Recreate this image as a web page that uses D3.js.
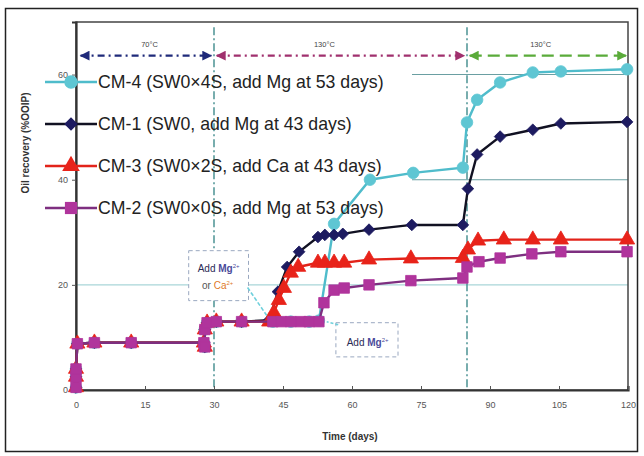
<!DOCTYPE html>
<html><head><meta charset="utf-8">
<script src="https://cdn.jsdelivr.net/npm/d3@7/dist/d3.min.js"></script>
<style>body{margin:0;background:#fff}svg{display:block;font-family:"Liberation Sans",Arial,sans-serif}</style>
</head><body><svg id="c" width="644" height="456"></svg>
<script>
// ---- data ----
const xTicks = [0, 15, 30, 45, 60, 75, 90, 105, 120];
const yTicks = [0, 20, 40, 60];
const gridValues = [20, 40, 60];
const stageBreaks = [30, 85];
const stageLabels = ["70°C", "130°C", "130°C"];
const stageStart = [1, 30.6, 85.6];
const stageEnd = [29.4, 84.4, 119.6];
const stageLabelX = [16, 54, 101];

// common early phase (all cores)
const commonDays = [0, 0, 0, 0.3, 4, 12, 27.8, 28, 28, 28.5, 30.5, 36];
const commonVals = [0.5, 2.5, 4, 8.8, 9, 9, 9, 8.2, 11.5, 12.8, 13, 13];

const cm1Days = [42, 43.9, 45.9, 48.5, 52.6, 54.1, 56.1, 58, 63.7, 73, 84.1, 85.2, 87.2, 92.2, 99.3, 105.4, 119.8];
const cm1Vals = [13.3, 18.7, 23.4, 26.3, 29.1, 29.5, 29.5, 29.7, 30.5, 31.4, 31.4, 38.3, 44.8, 48.2, 49.5, 50.7, 51];

const cm3Days = [42, 43, 44.1, 45.2, 46.7, 48.3, 52.6, 54.1, 56.1, 58.3, 63.7, 72.8, 84.1, 85.2, 87.4, 93, 99.3, 105.4, 119.8];
const cm3Vals = [13, 14.7, 17.1, 19.4, 22.3, 23.4, 24.2, 24.2, 24.2, 24.2, 24.8, 25, 25.1, 26.7, 28.4, 28.6, 28.6, 28.6, 28.6];

const cm2Days = [42.8, 44.6, 46.7, 48.9, 50.7, 52.8, 53.9, 56.1, 58.3, 63.7, 72.8, 84.1, 85, 87.6, 92.2, 99.1, 105.4, 119.8];
const cm2Vals = [13, 13, 13, 13, 13, 13, 16.6, 19, 19.4, 20, 20.8, 21.3, 23.4, 24.4, 25.1, 25.9, 26.3, 26.3];

const cm4Days = [42.8, 46.7, 50.7, 52.8, 56.1, 63.9, 73.3, 84.1, 85, 87.2, 92.2, 99.3, 105.4, 119.8];
const cm4Vals = [13, 13, 13, 13.2, 31.6, 40, 41.3, 42.3, 50.9, 55.2, 58.5, 60.4, 60.6, 61];

const seriesNames = ["CM-4 (SW0×4S, add Mg at 53 days)", "CM-1 (SW0, add Mg at 43 days)", "CM-3 (SW0×2S, add Ca at 43 days)", "CM-2 (SW0×0S, add Mg at 53 days)"];
const seriesDays = [cm4Days, cm1Days, cm3Days, cm2Days];
const seriesVals = [cm4Vals, cm1Vals, cm3Vals, cm2Vals];

// ---- styling ----
const lineColors = ["#4fbccb", "#111122", "#e2231a", "#7e2f80"];
const fillColors = ["#5ec6d3", "#1d1b60", "#e8231a", "#b0349c"];
const symbols = [d3.symbolCircle, d3.symbolSquare, d3.symbolTriangle, d3.symbolSquare];
const symSize = [105, 68, 100, 110];
const symRot = [0, 45, 0, 0];
const stageColors = ["#1f2a7a", "#a0306e", "#5aab3a"];
const stageDash = ["7,4,2,4", "7,4,2,4", "12,6"];

const svg = d3.select("#c");
const x = d3.scaleLinear().domain([0, 120]).range([76, 628]);
const y = d3.scaleLinear().domain([0, 70]).range([390, 22]);

// outer frame
svg.append("rect").attr("x", 5.5).attr("y", 8.5).attr("width", 632).attr("height", 443)
  .attr("fill", "none").attr("stroke", "#222").attr("stroke-width", 1.5);

// gridlines
svg.append("g").selectAll("line").data(gridValues).join("line")
  .attr("x1", x(0)).attr("x2", x(120)).attr("y1", d => y(d)).attr("y2", d => y(d))
  .attr("stroke", (d, i) => i === 0 ? "#a9d6d8" : "#6a9fa2").attr("stroke-width", 1.1);

// legend background
svg.append("rect").attr("x", 40).attr("y", 62).attr("width", 372).attr("height", 166).attr("fill", "#fff");

// stage separators
svg.append("g").selectAll("line").data(stageBreaks).join("line")
  .attr("x1", d => x(d)).attr("x2", d => x(d)).attr("y1", y(69)).attr("y2", y(0))
  .attr("stroke", "#3f8b8c").attr("stroke-width", 1.4).attr("stroke-dasharray", "8,3,2,3");

// arrow markers
const defs = svg.append("defs");
stageColors.forEach((c, i) => {
  defs.append("marker").attr("id", "ar" + i).attr("viewBox", "0 0 10 10").attr("refX", 9).attr("refY", 5)
    .attr("markerWidth", 5).attr("markerHeight", 4.5).attr("orient", "auto-start-reverse")
    .attr("markerUnits", "strokeWidth")
    .append("path").attr("d", "M0,0L10,5L0,10Z").attr("fill", c);
});
const stg = svg.append("g");
stageLabels.forEach((t, i) => {
  stg.append("line").attr("x1", x(stageStart[i])).attr("x2", x(stageEnd[i]))
    .attr("y1", y(63.6)).attr("y2", y(63.6)).attr("stroke", stageColors[i]).attr("stroke-width", 2.2)
    .attr("stroke-dasharray", stageDash[i])
    .attr("marker-start", "url(#ar" + i + ")").attr("marker-end", "url(#ar" + i + ")");
  stg.append("text").attr("x", x(stageLabelX[i])).attr("y", y(65.2)).attr("text-anchor", "middle")
    .attr("font-size", 7.5).attr("fill", "#444").text(t);
});

// axes box
svg.append("rect").attr("x", x(0)).attr("y", y(70)).attr("width", x(120) - x(0)).attr("height", y(0) - y(70))
  .attr("fill", "none").attr("stroke", "#444").attr("stroke-width", 1.5);
const xAxis = svg.append("g").attr("transform", `translate(0,${y(0)})`)
  .call(d3.axisBottom(x).tickValues(xTicks).tickSize(-4).tickPadding(12));
const yAxis = svg.append("g").attr("transform", `translate(${x(0)},0)`)
  .call(d3.axisLeft(y).tickValues(yTicks).tickSize(4).tickPadding(4));
[xAxis, yAxis].forEach(a => {
  a.select(".domain").attr("stroke", "#333").attr("stroke-width", 2.2);
  a.selectAll(".tick line").attr("stroke", "#555");
  a.selectAll(".tick text").attr("font-size", 9).attr("fill", "#555").attr("font-family", "Liberation Sans, Arial");
});

svg.append("text").attr("x", 350).attr("y", 440).attr("text-anchor", "middle")
  .attr("font-size", 10).attr("font-weight", "bold").attr("fill", "#333").text("Time (days)");
svg.append("text").attr("transform", "translate(29,143) rotate(-90)").attr("text-anchor", "middle")
  .attr("font-size", 10).attr("font-weight", "bold").attr("fill", "#333").text("Oil recovery (%OOIP)");

// series
const line = d3.line().x(d => x(d[0])).y(d => y(d[1]));
const sg = svg.append("g");
seriesDays.forEach((days, i) => {
  const pts = commonDays.map((d, k) => [d, commonVals[k]]).concat(days.map((d, k) => [d, seriesVals[i][k]]));
  sg.append("path").datum(pts).attr("d", line).attr("fill", "none")
    .attr("stroke", lineColors[i]).attr("stroke-width", 2.4);
  sg.append("g").selectAll("path").data(pts).join("path")
    .attr("d", d3.symbol().type(symbols[i]).size(symSize[i]))
    .attr("transform", d => `translate(${x(d[0])},${y(d[1])}) rotate(${symRot[i]})`)
    .attr("fill", fillColors[i]).attr("stroke", fillColors[i]).attr("stroke-width", 0.8);
});

// legend
const legY = [82, 124, 166, 208];
const lg = svg.append("g");
seriesNames.forEach((n, i) => {
  lg.append("line").attr("x1", 45).attr("x2", 97).attr("y1", legY[i]).attr("y2", legY[i])
    .attr("stroke", lineColors[i]).attr("stroke-width", 2.4);
  lg.append("path").attr("d", d3.symbol().type(symbols[i]).size(symSize[i] * 1.35))
    .attr("transform", `translate(71,${legY[i]}) rotate(${symRot[i]})`).attr("fill", fillColors[i]);
  lg.append("text").attr("x", 98).attr("y", legY[i]).attr("dy", "0.36em").attr("font-size", 17.7)
    .attr("fill", "#222").text(n);
});

// annotations
const ann = svg.append("g");
function box(x0, x1, v0, v1) {
  ann.append("rect").attr("x", x(x0)).attr("y", y(v1)).attr("width", x(x1) - x(x0)).attr("height", y(v0) - y(v1))
    .attr("fill", "#fff").attr("stroke", "#9aa8c0").attr("stroke-width", 1).attr("stroke-dasharray", "4,3");
}
box(24.5, 37.5, 17, 26.5);
box(56.5, 70, 6.3, 12.8);
function mgText(tx, ty) {
  const t = ann.append("text").attr("x", x(tx)).attr("y", y(ty)).attr("text-anchor", "middle").attr("font-size", 10);
  t.append("tspan").attr("fill", "#2a2a55").text("Add ");
  t.append("tspan").attr("fill", "#4a4a9a").attr("font-weight", "bold").text("Mg");
  t.append("tspan").attr("fill", "#4a4a9a").attr("font-size", 6).attr("dy", -4).text("2+");
}
mgText(31, 22.5);
const ca = ann.append("text").attr("x", x(30.8)).attr("y", y(19.3)).attr("text-anchor", "middle").attr("font-size", 10);
ca.append("tspan").attr("fill", "#555").text("or ");
ca.append("tspan").attr("fill", "#e07a2a").text("Ca");
ca.append("tspan").attr("fill", "#e07a2a").attr("font-size", 6).attr("dy", -4).text("2+");
mgText(63.4, 8.3);
ann.append("line").attr("x1", x(37.3)).attr("y1", y(19.5)).attr("x2", x(41.6)).attr("y2", y(14))
  .attr("stroke", "#6fd0dc").attr("stroke-width", 1.6).attr("stroke-dasharray", "4,2");
ann.append("line").attr("x1", x(57)).attr("y1", y(12.4)).attr("x2", x(54.5)).attr("y2", y(13))
  .attr("stroke", "#6fd0dc").attr("stroke-width", 1.6).attr("stroke-dasharray", "3,2");
</script></body></html>
